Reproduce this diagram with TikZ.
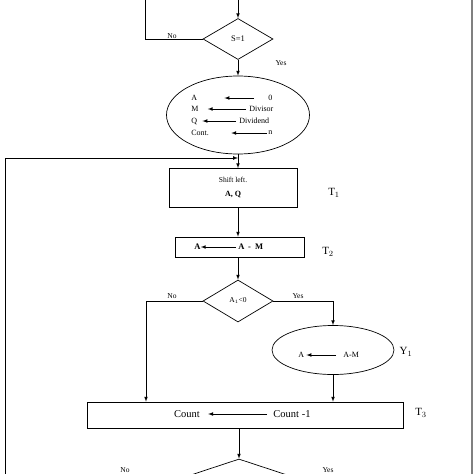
\documentclass[tikz,border=0pt]{standalone}
\usepackage{fontspec}
\setmainfont{Liberation Serif}
\usetikzlibrary{shapes.geometric,arrows}

\begin{document}
\begin{tikzpicture}[x=1pt,y=-1pt,line width=0.7pt,
    arr/.style={-latex},
    decide/.style={draw,diamond,inner sep=0pt,font=\fontsize{8.5}{9}\selectfont},
    oval/.style={draw,ellipse,inner sep=0pt},
    stepbox/.style={draw,rectangle,inner sep=0pt},
    lbl/.style={font=\fontsize{7.5}{8}\selectfont,inner sep=1pt},
    tlbl/.style={font=\fontsize{11}{12}\selectfont,inner sep=0pt}]
  \useasboundingbox (0,0) rectangle (474,474);
  \clip (0,0) rectangle (474,474);

  % top decision
  \coordinate (topin) at (238,0);
  \node[decide,minimum width=70pt,minimum height=41pt] (dec1) at (238,39) {S=1};
  \coordinate (nocorner) at (145,39);
  \coordinate (notop) at (145,0);
  \draw[arr] (topin) -- (dec1.north);
  \draw (dec1.west) -- (nocorner) -- (notop);
  \node[lbl] (no1) at (172,36) {No};
  \node[lbl] (yes1) at (281,63) {Yes};

  % initialisation
  \node[oval,minimum width=143pt,minimum height=78pt] (init) at (238,115) {};
  \draw[arr] (dec1.south) -- (init.north);
  \begin{scope}[font=\fontsize{8}{9}\selectfont]
    \node[anchor=west,inner sep=0pt] (la) at (191,98) {A};
    \node[anchor=west,inner sep=0pt] (lm) at (191,109) {M};
    \node[anchor=west,inner sep=0pt] (lq) at (191,121) {Q};
    \node[anchor=west,inner sep=0pt] (lc) at (191,133) {Cont.};
    \node[anchor=west,inner sep=0pt] (ra) at (268,98) {0};
    \node[anchor=west,inner sep=0pt] (rm) at (249,109) {Divisor};
    \node[anchor=west,inner sep=0pt] (rq) at (239,121) {Dividend};
    \node[anchor=west,inner sep=0pt] (rc) at (268,133) {n};
    \draw[arr,shorten <=14pt,shorten >=27pt] (ra.west) -- (la.east);
    \draw[arr,shorten <=3pt,shorten >=9pt] (rm.west) -- (lm.east);
    \draw[arr,shorten <=3pt,shorten >=5pt] (rq.west) -- (lq.east);
    \draw[arr,shorten <=1pt,shorten >=22pt] (rc.west) -- (lc.east);
  \end{scope}

  % shift
  \node[stepbox,minimum width=128pt,minimum height=39pt,align=center] (shift) at (233,188)
    {{\fontsize{7.5}{8}\selectfont Shift left.}\\[2pt]{\fontsize{8}{9}\selectfont\bfseries A, Q}};
  \node[tlbl] (t1) at (334,193) {T$_1$};
  \draw[arr] (init.south) -- (init.south |- shift.north);
  \coordinate (loopbot) at (5,474);
  \coordinate (looptop) at (5,158);
  \draw[arr] (loopbot) -- (looptop) -- (init.south |- looptop);

  % subtract
  \node[stepbox,minimum width=129pt,minimum height=20pt] (sub) at (239.5,247) {};
  \node[anchor=west,inner sep=0pt,font=\fontsize{8.5}{9}\selectfont\bfseries] (sa) at (194,247) {A};
  \node[anchor=west,inner sep=0pt,font=\fontsize{8.5}{9}\selectfont\bfseries] (sam) at (238,247) {A \,-\ \ M};
  \draw[arr,shorten <=2pt] (sam.west) -- (sa.east);
  \node[tlbl] (t2) at (328,252) {T$_2$};
  \draw[arr] (init.south |- shift.south) -- (init.south |- sub.north);

  % sign test
  \node[decide,minimum width=70pt,minimum height=42pt,font=\fontsize{7.5}{8}\selectfont] (dec2) at (238,301) {A$_1$<0};
  \draw[arr] (init.south |- sub.south) -- (dec2.north);
  \coordinate (nobend) at (146,301);
  \coordinate (yesbend) at (333,301);
  \node[lbl] (no2) at (172,296) {No};
  \node[lbl] (yes2) at (298,296) {Yes};

  % restore
  \node[oval,minimum width=122pt,minimum height=49pt] (restore) at (333,350) {};
  \node[anchor=west,inner sep=0pt,font=\fontsize{8}{9}\selectfont] (ra2) at (298,355) {A};
  \node[anchor=west,inner sep=0pt,font=\fontsize{8}{9}\selectfont] (ram) at (343,355) {A-M};
  \draw[arr,shorten <=7pt,shorten >=2pt] (ram.west) -- (ra2.east);
  \node[tlbl] (y1) at (406,352) {Y$_1$};
  \draw[arr] (dec2.east) -- (yesbend) -- (yesbend |- restore.north);

  % count
  \node[stepbox,minimum width=316pt,minimum height=26pt] (cnt) at (245,415) {};
  \node[inner sep=0pt,font=\fontsize{10.5}{11}\selectfont] (cl) at (187,414) {Count};
  \node[inner sep=0pt,font=\fontsize{10.5}{11}\selectfont] (cr) at (292,414) {Count -1};
  \draw[arr,shorten <=6pt,shorten >=8pt] (cr.west) -- (cl.east);
  \node[tlbl] (t3) at (421,413) {T$_3$};
  \draw[arr] (dec2.west) -- (nobend) -- (nobend |- cnt.north);
  \draw[arr] (restore.south) -- (restore.south |- cnt.north);

  % end test
  \node[decide,minimum width=200pt,minimum height=66pt] (dec3) at (239,492) {};
  \draw[arr] (cnt.south -| dec3.north) -- (dec3.north);
  \node[lbl] (no3) at (125,470) {No};
  \node[lbl] (yes3) at (328,470) {Yes};

  % page edge
  \draw[gray,line width=1.2pt] (472,0) -- (472,474);
\end{tikzpicture}
\end{document}
